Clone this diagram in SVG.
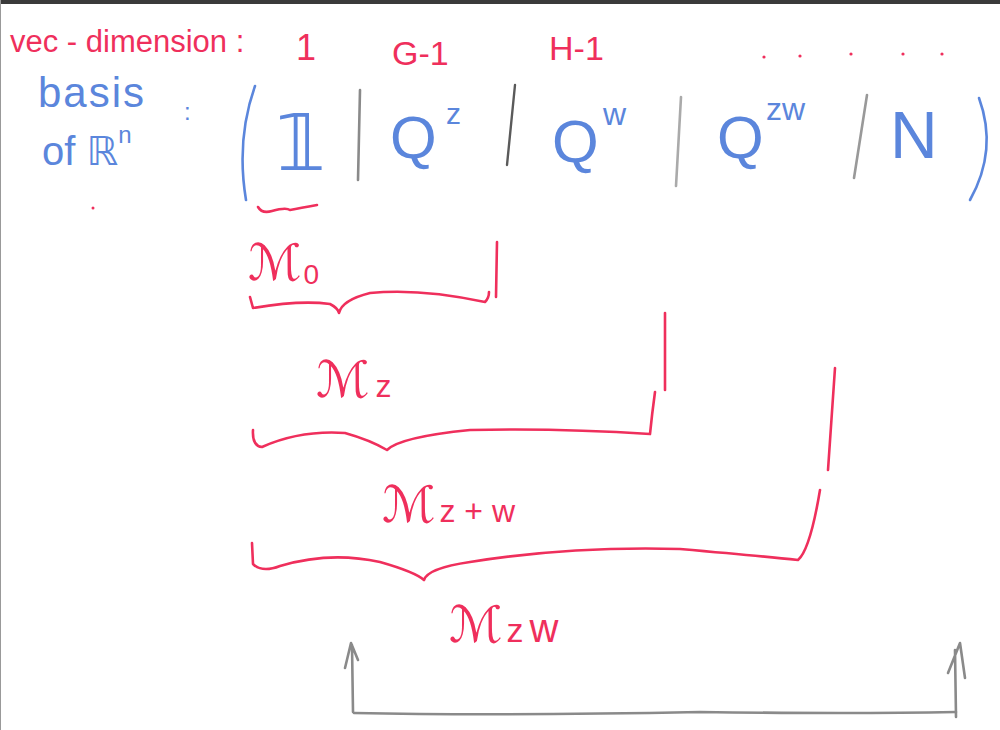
<svg xmlns="http://www.w3.org/2000/svg" width="1000" height="730" viewBox="0 0 1000 730">
<style>
.red{fill:#ef2f5c;font-family:"Liberation Sans","DejaVu Sans",sans-serif;font-weight:normal}
.blue{fill:#5b86dc;font-family:"Liberation Sans","DejaVu Sans",sans-serif}
.rs{fill:none;stroke:#ef2f5c;stroke-width:2.6;stroke-linecap:round;stroke-linejoin:round}
.bs{fill:none;stroke:#5b86dc;stroke-width:2.6;stroke-linecap:round}
.gs{fill:none;stroke:#8a8a8a;stroke-width:2.6;stroke-linecap:round;stroke-linejoin:round}
</style>
<rect x="0" y="0" width="1000" height="730" fill="#ffffff"/>
<rect x="0" y="0" width="1000" height="4" fill="#3a3a3a"/>
<line x1="0.5" y1="0" x2="0.5" y2="730" stroke="#999" stroke-width="1"/>

<g id="header">
  <text class="red" x="10" y="52" font-size="31">vec - dimension :</text>
  <text class="red" x="296" y="60" font-size="36">1</text>
  <text class="red" x="392" y="65" font-size="34">G-1</text>
  <text class="red" x="549" y="60" font-size="34">H-1</text>
  <g fill="#ef2f5c">
    <circle cx="764" cy="57" r="1.6"/><circle cx="800" cy="56" r="1.6"/><circle cx="851" cy="54" r="1.6"/><circle cx="903" cy="54" r="1.6"/><circle cx="942" cy="54" r="1.6"/>
  </g>
  <circle cx="93" cy="208" r="1.5" fill="#ef2f5c"/>
</g>

<g id="basis-label">
  <text class="blue" x="38" y="107" font-size="42" letter-spacing="2">basis</text>
  <text class="blue" x="42" y="165" font-size="40">of ℝ<tspan font-size="24" dy="-22">n</tspan></text>
  <text class="blue" x="184" y="120" font-size="24">:</text>
</g>

<g id="matrix">
  <path class="bs" d="M255 86 Q236 140 246 200"/>
  <text class="blue" x="276" y="170" font-size="78">𝟙</text>
  <line class="gs" x1="360" y1="90" x2="358" y2="180"/>
  <text class="blue" x="390" y="158" font-size="60">Q</text>
  <text class="blue" x="446" y="124" font-size="30">z</text>
  <line x1="515" y1="85" x2="507" y2="165" stroke="#5a5a5a" stroke-width="2.4" stroke-linecap="round"/>
  <text class="blue" x="552" y="162" font-size="60">Q</text>
  <text class="blue" x="603" y="125" font-size="32">w</text>
  <line x1="681" y1="97" x2="676" y2="186" stroke="#aaaaaa" stroke-width="2.6" stroke-linecap="round"/>
  <text class="blue" x="717" y="158" font-size="60">Q</text>
  <text class="blue" x="766" y="120" font-size="32">zw</text>
  <line x1="867" y1="95" x2="854" y2="178" stroke="#999999" stroke-width="2.6" stroke-linecap="round"/>
  <text class="blue" x="890" y="158" font-size="66">N</text>
  <path class="bs" d="M979 98 Q998 150 970 200"/>
</g>

<g id="braces">
  <path class="rs" d="M258 207 Q262 214 272 211 Q286 207 290 210 Q300 208 317 205"/>
  <text class="red" x="248" y="280" font-size="50">ℳ<tspan font-size="28" dx="2" dy="4">0</tspan></text>
  <line class="rs" x1="497" y1="242" x2="496" y2="297"/>
  <path class="rs" d="M250 297 L253 308 Q300 300 330 304 Q338 308 339 313 Q342 300 370 293 Q420 288 485 302 Q489 298 489 292"/>

  <text class="red" x="316" y="397" font-size="50">ℳ<tspan font-size="32" dx="6">z</tspan></text>
  <line class="rs" x1="665" y1="313" x2="665" y2="390"/>
  <path class="rs" d="M253 430 Q252 446 262 447 Q300 430 345 433 Q370 440 387 450 Q400 437 470 430 Q560 428 650 434 Q652 414 655 392"/>

  <text class="red" x="382" y="522" font-size="50">ℳ<tspan font-size="32" dx="4">z + w</tspan></text>
  <line class="rs" x1="835" y1="368" x2="828" y2="470"/>
  <path class="rs" d="M252 543 L253 564 Q262 573 280 566 Q330 551 380 562 Q415 572 424 580 Q428 568 470 562 Q570 546 680 549 Q760 556 798 560 Q810 550 820 490"/>

  <text class="red" x="449" y="642" font-size="50">ℳ<tspan font-size="34" dx="4">z</tspan><tspan font-size="40" dx="6">w</tspan></text>
</g>

<g id="connectors">
  <path class="gs" d="M353 712 L352 645 M345 668 L351 643 L358 660"/>
  <path class="gs" d="M354 713 Q500 716 700 712 Q850 714 956 712"/>
  <path class="gs" d="M956 717 L955 650 M948 673 L960 643 L965 678"/>
</g>
</svg>
